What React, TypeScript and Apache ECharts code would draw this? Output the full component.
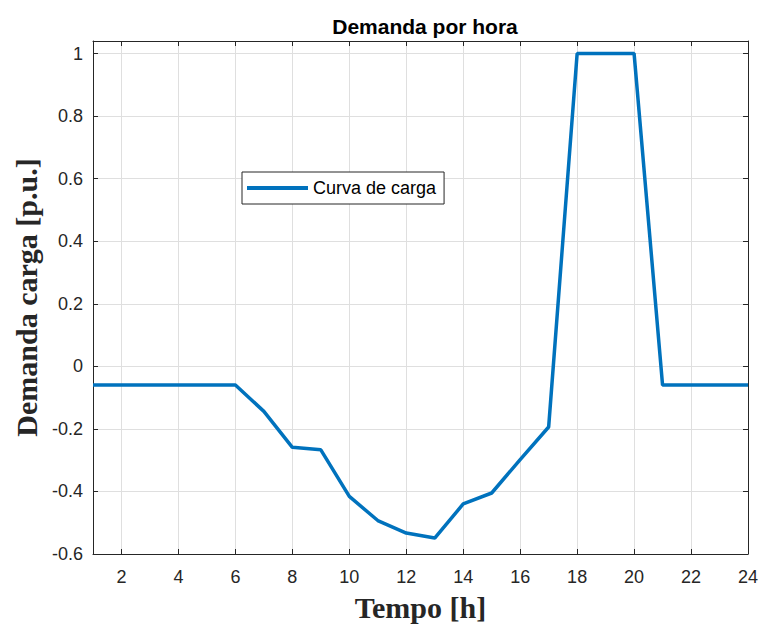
import React, { useEffect, useRef } from "react";
import * as echarts from "echarts";

const hours = [1, 2, 3, 4, 5, 6, 7, 8, 9, 10, 11, 12, 13, 14, 15, 16, 17, 18, 19, 20, 21, 22, 23, 24];
const demand = [
  -0.06, -0.06, -0.06, -0.06, -0.06, -0.06, -0.144, -0.259, -0.267, -0.416, -0.493, -0.533,
  -0.549, -0.44, -0.405, -0.298, -0.194, 1.0, 1.0, 1.0, -0.06, -0.06, -0.06, -0.06,
];
const seriesName = "Curva de carga";
const titleText = "Demanda por hora";
const xName = "Tempo [h]";
const yName = "Demanda carga [p.u.]";

const SANS = "Liberation Sans, Arial, Helvetica, sans-serif";
const SERIF = "Liberation Serif, Times New Roman, serif";
const AXIS_COLOR = "#262626";
const GRID_COLOR = "#dfdfdf";
const LINE_COLOR = "#0072BD";

export default function App() {
  const ref = useRef<HTMLDivElement>(null);

  useEffect(() => {
    if (!ref.current) return;
    const chart = echarts.init(ref.current, undefined, { renderer: "svg" });
    const data = hours.map((h, i) => [h, demand[i]]);

    const tickCommon = { show: true, inside: true, length: 5, lineStyle: { color: AXIS_COLOR } };
    const lineCommon = { show: true, onZero: false, lineStyle: { color: AXIS_COLOR, width: 1 } };

    chart.setOption({
      animation: false,
      backgroundColor: "#ffffff",
      title: {
        text: titleText,
        left: 420,
        top: 11,
        textAlign: "center",
        textStyle: { fontFamily: SANS, fontSize: 21, fontWeight: "bold", color: "#000" },
      },
      legend: {
        left: 242,
        top: 172,
        data: [{ name: seriesName, icon: "rect" }],
        selectedMode: false,
        orient: "vertical",
        itemWidth: 61,
        itemHeight: 4,
        itemGap: 0,
        padding: [7, 8, 7, 5],
        borderColor: AXIS_COLOR,
        borderWidth: 1,
        backgroundColor: "#fff",
        itemStyle: { color: LINE_COLOR },
        textStyle: { fontFamily: SANS, fontSize: 18, color: "#000", lineHeight: 18 },
      },
      grid: {
        left: 93,
        right: 13,
        top: 41,
        bottom: 77,
        outerBoundsMode: "none",
      },
      xAxis: [
        {
          type: "value",
          min: 1,
          max: 24,
          splitNumber: 12,
          name: xName,
          nameLocation: "middle",
          nameGap: 38,
          nameTextStyle: { fontFamily: SERIF, fontSize: 30, fontWeight: "bold", color: AXIS_COLOR },
          axisLine: lineCommon,
          axisTick: tickCommon,
          axisLabel: {
            showMinLabel: false,
            margin: 14,
            fontFamily: SANS,
            fontSize: 18,
            color: AXIS_COLOR,
          },
          splitLine: { show: true, lineStyle: { color: GRID_COLOR, width: 1 } },
        },
        {
          type: "value",
          position: "top",
          min: 1,
          max: 24,
          splitNumber: 12,
          axisLine: lineCommon,
          axisTick: tickCommon,
          axisLabel: { show: false },
          splitLine: { show: false },
        },
      ],
      yAxis: [
        {
          type: "value",
          min: -0.6,
          max: 1.04,
          interval: 0.2,
          name: yName,
          nameLocation: "middle",
          nameGap: 50,
          nameTextStyle: { fontFamily: SERIF, fontSize: 30, fontWeight: "bold", color: AXIS_COLOR },
          axisLine: lineCommon,
          axisTick: tickCommon,
          axisLabel: {
            showMaxLabel: false,
            margin: 10,
            fontFamily: SANS,
            fontSize: 18,
            color: AXIS_COLOR,
            formatter: (v: number) => String(Math.round(v * 10) / 10),
          },
          splitLine: { show: true, lineStyle: { color: GRID_COLOR, width: 1 } },
        },
        {
          type: "value",
          position: "right",
          min: -0.6,
          max: 1.04,
          interval: 0.2,
          axisLine: lineCommon,
          axisTick: tickCommon,
          axisLabel: { show: false },
          splitLine: { show: false },
        },
      ],
      series: [
        {
          name: seriesName,
          type: "line",
          data,
          symbol: "none",
          lineStyle: { color: LINE_COLOR, width: 3.5 },
          itemStyle: { color: LINE_COLOR },
          z: 5,
        },
      ],
    });

    return () => chart.dispose();
  }, []);

  return <div ref={ref} style={{ width: 761, height: 631, position: "absolute", left: 0, top: 0 }} />;
}
